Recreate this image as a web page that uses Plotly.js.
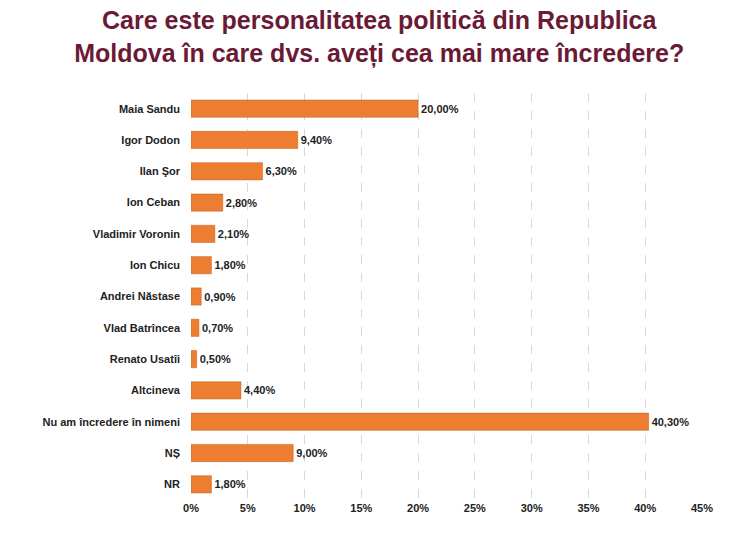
<!DOCTYPE html>
<html><head><meta charset="utf-8">
<script src="https://cdn.plot.ly/plotly-3.0.1.min.js"></script>
<style>body{margin:0;background:#fff}</style>
</head><body>
<div id="chart" style="width:748px;height:533px"></div>
<script>
var names = ['Maia Sandu','Igor Dodon','Ilan Şor','Ion Ceban','Vladimir Voronin','Ion Chicu','Andrei Năstase','Vlad Batrîncea','Renato Usatîi','Altcineva','Nu am încredere în nimeni','NȘ','NR'];
var values = [20.0, 9.4, 6.3, 2.8, 2.1, 1.8, 0.9, 0.7, 0.5, 4.4, 40.3, 9.0, 1.8];
var labels = values.map(function(v){ return '<b>' + v.toFixed(2).replace('.', ',') + '%</b>'; });
var ticks = [0,5,10,15,20,25,30,35,40,45];

Plotly.newPlot('chart', [{
  type: 'bar', orientation: 'h',
  y: names, x: values,
  text: labels, textposition: 'outside', cliponaxis: false,
  textfont: {family: 'Liberation Sans, Arial', size: 11, color: '#222'},
  marker: {color: '#ED7D31', line: {color: '#c0601f', width: 0.5}},
  width: 0.55
}], {
  width: 748, height: 533,
  margin: {l: 191, r: 46, t: 93, b: 33},
  paper_bgcolor: '#fff', plot_bgcolor: '#fff',
  font: {family: 'Liberation Sans, Arial', size: 11, color: '#222'},
  title: {text: '<b>Care este personalitatea politică din Republica<br>Moldova în care dvs. aveți cea mai mare încredere?</b>',
    font: {size: 25, color: '#6b1a36', family: 'Liberation Sans, Arial'}, x: 0.507, xanchor: 'center', y: 0.945, yanchor: 'top'},
  showlegend: false,
  xaxis: {range: [0, 45], tickvals: ticks, ticktext: ticks.map(function(t){return '<b>'+t+'%</b>';}),
    showgrid: true, gridcolor: '#d9d9d9', griddash: 'dash', zeroline: false, showline: false,
    tickfont: {size: 11}},
  yaxis: {autorange: 'reversed', ticklabelstandoff: 10, tickfont: {size: 11},
    tickvals: names, ticktext: names.map(function(n){return '<b>'+n+'</b>';}),
    showline: false}
}, {displayModeBar: false});
</script>
</body></html>
